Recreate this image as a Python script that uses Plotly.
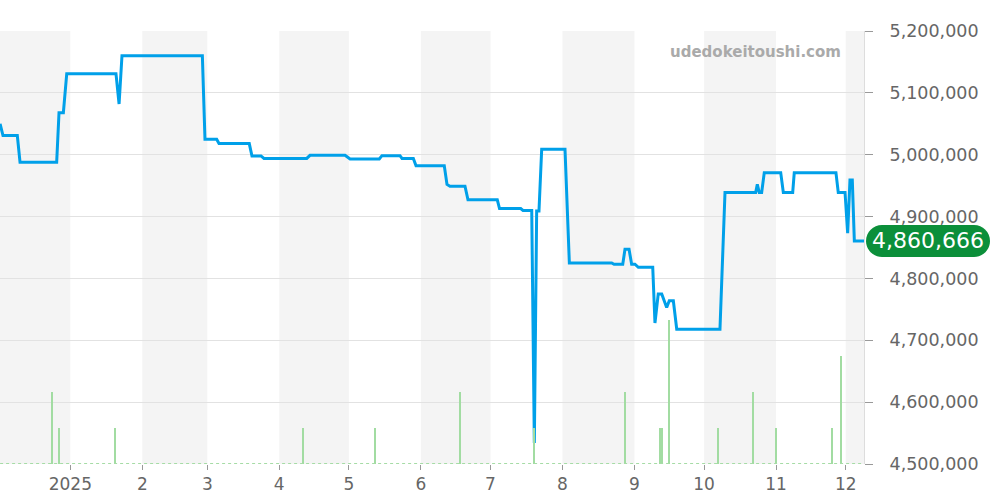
import plotly.graph_objects as go

# ---- data ----
price_dates = [
    "2024-12-01 18:00", "2024-12-03 00:00", "2024-12-09 04:00", "2024-12-10 08:00",
    "2024-12-26 03:00", "2024-12-27 03:00", "2024-12-29 00:00", "2024-12-30 11:00",
    "2025-01-20 16:00", "2025-01-22 00:00", "2025-01-23 06:00", "2025-02-26 21:00",
    "2025-02-28 00:00", "2025-03-05 01:00", "2025-03-06 01:00", "2025-03-19 02:00",
    "2025-03-20 06:00", "2025-03-24 03:00", "2025-03-25 10:00", "2025-04-12 20:00",
    "2025-04-14 06:00", "2025-04-29 08:00", "2025-05-01 12:00", "2025-05-14 02:00",
    "2025-05-15 06:00", "2025-05-23 00:00", "2025-05-23 21:00", "2025-05-28 18:00",
    "2025-05-29 22:00", "2025-06-11 02:00", "2025-06-12 06:00", "2025-06-13 13:00",
    "2025-06-20 00:00", "2025-06-21 07:00", "2025-07-03 22:00", "2025-07-04 21:00",
    "2025-07-14 00:00", "2025-07-15 00:00", "2025-07-18 18:00", "2025-07-19 21:00",
    "2025-07-20 21:00", "2025-07-21 21:00", "2025-07-23 01:00", "2025-08-02 02:00",
    "2025-08-03 23:00", "2025-08-22 05:00", "2025-08-23 05:00", "2025-08-26 23:00",
    "2025-08-27 22:00", "2025-08-29 16:00", "2025-08-30 19:00", "2025-09-01 05:00",
    "2025-09-02 16:00", "2025-09-08 21:00", "2025-09-09 20:00", "2025-09-11 06:00",
    "2025-09-12 18:00", "2025-09-14 21:00", "2025-09-16 00:00", "2025-09-17 18:00",
    "2025-09-19 05:00", "2025-10-07 20:00", "2025-10-10 00:00", "2025-10-23 05:00",
    "2025-10-23 22:00", "2025-10-24 18:00", "2025-10-25 19:00", "2025-10-26 22:00",
    "2025-11-03 00:00", "2025-11-04 03:00", "2025-11-08 04:00", "2025-11-08 20:00",
    "2025-11-26 19:00", "2025-11-27 19:00", "2025-11-30 17:00", "2025-12-01 20:00",
    "2025-12-02 20:00", "2025-12-03 20:00", "2025-12-04 17:00", "2025-12-08 21:00",
]
price_values = [
    5050000, 5031000, 5031000, 4988000,
    4988000, 5068000, 5068000, 5131000,
    5131000, 5082000, 5160000, 5160000,
    5025000, 5025000, 5018000, 5018000,
    4998000, 4998000, 4994000, 4994000,
    4999000, 4999000, 4993000, 4993000,
    4998500, 4998500, 4994000, 4994000,
    4982000, 4982000, 4952000, 4949000,
    4949000, 4927000, 4927000, 4913000,
    4913000, 4910000, 4910000, 4534000,
    4909000, 4909000, 5009000, 5009000,
    4825000, 4825000, 4823000, 4823000,
    4847000, 4847000, 4823000, 4823000,
    4818000, 4818000, 4728000, 4775000,
    4775000, 4753000, 4764000, 4764000,
    4718000, 4718000, 4939000, 4939000,
    4952000, 4939000, 4939000, 4971000,
    4971000, 4939000, 4939000, 4971000,
    4971000, 4939000, 4939000, 4873000,
    4959000, 4959000, 4860666, 4860666,
]

volume_dates = [
    "2024-12-24 00:00", "2024-12-27 00:00", "2025-01-20 03:00", "2025-04-11 02:00",
    "2025-05-12 02:00", "2025-06-18 00:00", "2025-07-20 00:00", "2025-08-27 22:00",
    "2025-09-12 03:00", "2025-09-12 21:00", "2025-09-16 00:00", "2025-10-07 00:00",
    "2025-10-21 22:00", "2025-10-31 23:00", "2025-11-24 23:00", "2025-11-28 23:00",
]
volume_counts = [2, 1, 1, 1, 1, 2, 1, 2, 1, 1, 4, 1, 2, 1, 1, 3]

tick_dates = ["2025-01-01", "2025-02-01", "2025-03-01", "2025-04-01", "2025-05-01",
              "2025-06-01", "2025-07-01", "2025-08-01", "2025-09-01", "2025-10-01",
              "2025-11-01", "2025-12-01"]
tick_labels = ["2025", "2", "3", "4", "5", "6", "7", "8", "9", "10", "11", "12"]

band_starts = ["2024-11-01", "2025-02-01", "2025-04-01", "2025-06-01",
               "2025-08-01", "2025-10-01", "2025-12-01"]
band_ends = ["2025-01-01", "2025-03-01", "2025-05-01", "2025-07-01",
             "2025-09-01", "2025-11-01", "2026-01-01"]

x_range = ["2024-12-01 17:00", "2025-12-08 21:00"]
y_range = [4500000, 5200000]
last_value = price_values[-1]

# ---- figure ----
fig = go.Figure()

# zero-volume dotted baseline
fig.add_trace(go.Scatter(
    x=[price_dates[0], price_dates[-1]], y=[0, 0], yaxis="y2",
    mode="lines", line=dict(color="#a6dca6", width=2, dash="dot"),
    hoverinfo="skip", showlegend=False,
))
fig.add_trace(go.Bar(
    x=volume_dates, y=volume_counts, yaxis="y2",
    width=0.55 * 86400000, marker=dict(color="#a2dca2", line=dict(width=0)),
    showlegend=False,
))
fig.add_trace(go.Scatter(
    x=price_dates, y=price_values, mode="lines",
    line=dict(color="#00a0e9", width=3), showlegend=False,
))

shapes = []
for s, e in zip(band_starts, band_ends):
    shapes.append(dict(type="rect", xref="x", yref="paper", x0=s, x1=e, y0=0, y1=1,
                       fillcolor="#f4f4f4", line=dict(width=0), layer="below"))

# rounded pill for last value
py = (last_value - y_range[0]) / (y_range[1] - y_range[0])
r = 16
k = 0.5523 * r
x_left, x_right = 2, 126
path = (f"M {x_left + r},{-r} L {x_right - r},{-r} "
        f"C {x_right - r + k},{-r} {x_right},{-k} {x_right},0 "
        f"C {x_right},{k} {x_right - r + k},{r} {x_right - r},{r} "
        f"L {x_left + r},{r} "
        f"C {x_left + r - k},{r} {x_left},{k} {x_left},0 "
        f"C {x_left},{-k} {x_left + r - k},{-r} {x_left + r},{-r} Z")
shapes.append(dict(type="path", xref="paper", yref="paper",
                   xsizemode="pixel", ysizemode="pixel",
                   xanchor=1, yanchor=py, path=path,
                   fillcolor="#0b8f3a", line=dict(width=0), layer="above"))

fig.update_layout(
    width=1000, height=500,
    margin=dict(l=0, r=136, t=31, b=36),
    paper_bgcolor="white", plot_bgcolor="white",
    font=dict(family="DejaVu Sans", size=17, color="#666666"),
    shapes=shapes,
    bargap=0,
    xaxis=dict(
        type="date", range=x_range, showgrid=False, zeroline=False,
        tickmode="array", tickvals=tick_dates, ticktext=tick_labels,
        ticks="outside", ticklen=5, tickcolor="#999999", showline=False,
        tickfont=dict(size=17, color="#666666"),
    ),
    yaxis=dict(
        side="right", range=y_range, dtick=100000, tickformat=",d",
        showgrid=True, gridcolor="#e2e2e2", zeroline=False,
        ticks="outside", ticklen=8, tickcolor="#999999",
        showline=True, linecolor="#dddddd",
        tickfont=dict(size=17.5, color="#666666"), ticklabelstandoff=13,
    ),
    yaxis2=dict(overlaying="y", range=[0, 12.03], visible=False, fixedrange=True),
    annotations=[
        dict(text="udedokeitoushi.com", xref="paper", yref="paper",
             x=0.874, y=0.951, xanchor="center", yanchor="middle", showarrow=False,
             font=dict(family="DejaVu Sans", size=15, color="#aaaaaa", weight="bold")),
        dict(text=f"{last_value:,}", xref="paper", yref="y", x=1, y=last_value,
             xanchor="center", yanchor="middle", xshift=64, showarrow=False,
             font=dict(family="DejaVu Sans", size=22, color="white")),
    ],
)

fig.write_html("out.html", config={"displayModeBar": False},
               post_script="document.body.style.margin='0';")
